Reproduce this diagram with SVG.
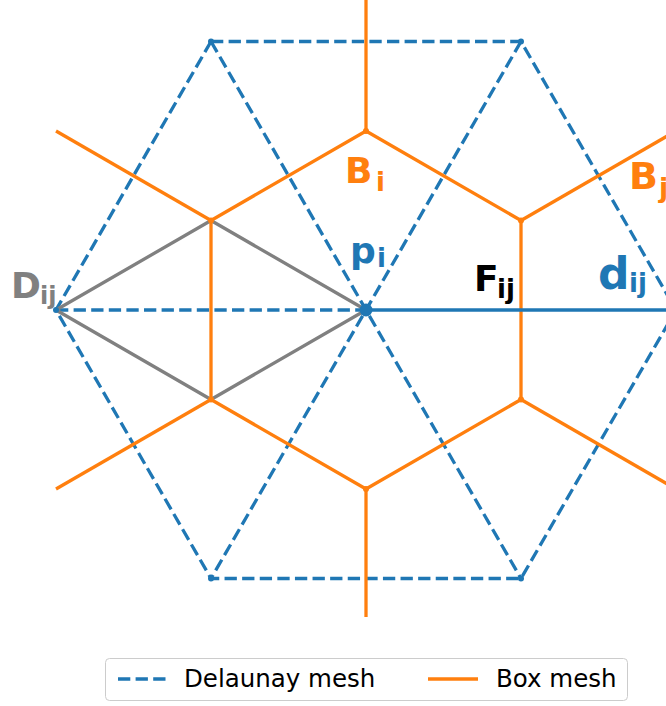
<svg xmlns="http://www.w3.org/2000/svg" width="666" height="706" viewBox="0 0 666 706">
<style>
.del{fill:none;stroke:#1f77b4;stroke-width:3.3;stroke-dasharray:12.3 5.3}
.box{fill:none;stroke:#ff7f0e;stroke-width:3.3;stroke-linejoin:round}
.gray{fill:none;stroke:#808080;stroke-width:3.3;stroke-linejoin:round}
.dp{fill:#1f77b4}
.bp{fill:#ff7f0e}
.lbl{font-family:"DejaVu Sans",sans-serif;font-weight:bold}
.leg{font-family:"DejaVu Sans",sans-serif;font-size:24.5px;fill:#000}
</style>
<rect width="666" height="706" fill="#fff"/>
<g id="connectors">
  <g id="delaunay">
    <polyline class="del" points="211,41.5 521,41.5 676,310"/>
    <polyline class="del" points="211,41.5 56,310 211,578.5 521,578.5 676,310"/>
    <line class="del" x1="211" y1="41.5" x2="521" y2="578.5"/>
    <line class="del" x1="521" y1="41.5" x2="211" y2="578.5"/>
    <line class="del" x1="56" y1="310" x2="366" y2="310"/>
  </g>
  <g id="box">
    <polygon class="box" points="366,131 521,220.5 521,399.5 366,489 211,399.5 211,220.5"/>
    <line class="box" x1="366" y1="131" x2="366" y2="0"/>
    <line class="box" x1="521" y1="220.5" x2="676" y2="131"/>
    <line class="box" x1="211" y1="220.5" x2="56" y2="131"/>
    <line class="box" x1="211" y1="399.5" x2="56" y2="489"/>
    <line class="box" x1="366" y1="489" x2="366" y2="617"/>
    <line class="box" x1="521" y1="399.5" x2="676" y2="489"/>
  </g>
  <polygon id="dual" class="gray" points="56,310 211,220.5 366,310 211,399.5"/>
  <line id="dij-line" x1="366" y1="310" x2="676" y2="310" stroke="#1f77b4" stroke-width="3.3"/>
</g>
<g id="box-vertices">
  <circle class="bp" cx="366" cy="131" r="3"/>
  <circle class="bp" cx="521" cy="220.5" r="3"/>
  <circle class="bp" cx="521" cy="399.5" r="3"/>
  <circle class="bp" cx="366" cy="489" r="3"/>
  <circle class="bp" cx="211" cy="399.5" r="3"/>
  <circle class="bp" cx="211" cy="220.5" r="3"/>
</g>
<g id="delaunay-vertices">
  <circle class="dp" cx="211" cy="41.5" r="3"/>
  <circle class="dp" cx="521" cy="41.5" r="3"/>
  <circle class="dp" cx="56" cy="310" r="3"/>
  <circle class="dp" cx="211" cy="578.5" r="3"/>
  <circle class="dp" cx="521" cy="578.5" r="3"/>
</g>
<g id="p_i">
  <circle class="dp" cx="366" cy="310" r="6.5"/>
  <text class="lbl" fill="#1f77b4" font-size="36" x="350" y="263">p<tspan x="377" y="267" font-size="26">i</tspan></text>
</g>
<g id="B_i">
  <text class="lbl" fill="#ff7f0e" font-size="36" x="345" y="183">B<tspan x="376" y="191" font-size="26">i</tspan></text>
</g>
<g id="B_j">
  <text class="lbl" fill="#ff7f0e" font-size="38" x="629" y="189">B<tspan x="659" y="197" font-size="27">j</tspan></text>
</g>
<g id="F_ij">
  <text class="lbl" fill="#000" font-size="36" x="474" y="291">F<tspan x="497" y="298" font-size="26">ij</tspan></text>
</g>
<g id="d_ij">
  <text class="lbl" fill="#1f77b4" font-size="44" x="598" y="289">d<tspan x="629" y="292" font-size="26">ij</tspan></text>
</g>
<g id="D_ij">
  <text class="lbl" fill="#808080" font-size="36" x="11" y="298">D<tspan x="40" y="304" font-size="24">ij</tspan></text>
</g>
<g id="legend">
  <rect x="105.5" y="658.5" width="522" height="42" rx="4" fill="#fff" stroke="#cccccc" stroke-width="1"/>
  <line class="del" x1="118" y1="679" x2="166" y2="679"/>
  <text class="leg" x="184" y="687">Delaunay mesh</text>
  <line class="box" x1="428" y1="679" x2="478" y2="679"/>
  <text class="leg" x="496" y="687">Box mesh</text>
</g>
</svg>
